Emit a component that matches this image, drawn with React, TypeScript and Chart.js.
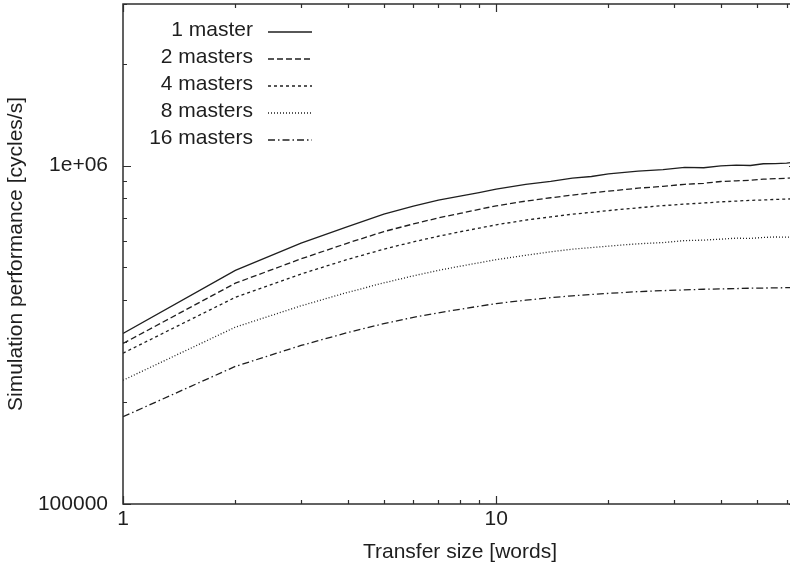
import React, { useEffect, useRef } from "react";
import { Chart, registerables } from "chart.js";

Chart.register(...registerables);

// Transfer sizes (words) sampled along the x axis
const transferSizes = [1, 2, 3, 4, 5, 6, 7, 8, 9, 10, 12, 14, 16, 18, 20, 24, 28, 32, 36, 40, 44, 48, 52, 56, 60, 64];

// Simulation performance [cycles/s]
const master1 = [319000, 490000, 590000, 660000, 718000, 758000, 790000, 812000, 832000, 852000, 880000, 898000, 918000, 928000, 944000, 962000, 972000, 988000, 985000, 998000, 1003000, 1000000, 1012000, 1013000, 1016000, 1025000];
const masters2 = [298000, 449000, 530000, 590000, 638000, 672000, 700000, 722000, 742000, 760000, 785000, 803000, 818000, 830000, 840000, 857000, 868000, 880000, 886000, 897000, 901000, 904000, 911000, 914000, 917000, 920000];
const masters4 = [279000, 408000, 478000, 528000, 566000, 595000, 618000, 637000, 653000, 668000, 690000, 705000, 718000, 727000, 736000, 750000, 761000, 769000, 775000, 781000, 785000, 789000, 791000, 794000, 796000, 798000];
const masters8 = [232000, 333000, 385000, 422000, 450000, 472000, 490000, 504000, 516000, 527000, 543000, 556000, 566000, 572000, 578000, 587000, 592000, 600000, 602000, 606000, 610000, 609000, 613000, 615000, 614000, 617000];
const masters16 = [181000, 255000, 294000, 321000, 341000, 356000, 367000, 376000, 384000, 391000, 400000, 407000, 412000, 416000, 419000, 424000, 427000, 429000, 431000, 432000, 433000, 434000, 434500, 435000, 435500, 436000];

const seriesLabels = ["1 master", "2 masters", "4 masters", "8 masters", "16 masters"];
const seriesValues = [master1, masters2, masters4, masters8, masters16];
const seriesDashes = [[], [6, 3], [3, 3], [1, 2], [7, 3, 1.5, 3]];

// Axis ticks
const xMajorTicks = [1, 10];
const xMinorTicks = [2, 3, 4, 5, 6, 7, 8, 9, 20, 30, 40, 50, 60];
const xTickLabels: Record<string, string> = { "1": "1", "10": "10" };
const yMajorTicks = [100000, 1000000];
const yMinorTicks = [200000, 300000, 400000, 500000, 600000, 700000, 800000, 900000, 2000000, 3000000];
const yTickLabels: Record<string, string> = { "100000": "100000", "1000000": "1e+06" };

const FONT = '"Liberation Sans", Arial, Helvetica, sans-serif';
const TEXT = "#1e1e1e";
const INK = "#1f1f1f";

const framePlugin = {
  id: "frameAndLegend",
  afterDatasetsDraw(chart: any) {
    const { ctx, chartArea, scales } = chart;
    const { left, right, top, bottom } = chartArea;
    const xs = scales.x;
    const ys = scales.y;
    ctx.save();
    ctx.strokeStyle = "#2e2e2e";
    ctx.lineWidth = 1.5;
    ctx.setLineDash([]);
    ctx.strokeRect(left, top, right - left, bottom - top);

    ctx.lineWidth = 1.2;
    ctx.beginPath();
    const xTick = (v: number, len: number) => {
      const p = Math.round(xs.getPixelForValue(v)) + 0.5;
      ctx.moveTo(p, bottom);
      ctx.lineTo(p, bottom - len);
      ctx.moveTo(p, top);
      ctx.lineTo(p, top + len);
    };
    const yTick = (v: number, len: number) => {
      const p = Math.round(ys.getPixelForValue(v)) + 0.5;
      ctx.moveTo(left, p);
      ctx.lineTo(left + len, p);
      ctx.moveTo(right, p);
      ctx.lineTo(right - len, p);
    };
    xMajorTicks.forEach((v) => xTick(v, 8));
    xMinorTicks.forEach((v) => xTick(v, 4));
    yMajorTicks.forEach((v) => yTick(v, 8));
    yMinorTicks.forEach((v) => yTick(v, 4));
    ctx.stroke();

    // Legend (inside plot, top-left; text right-aligned, sample line to the right)
    ctx.font = `21px ${FONT}`;
    ctx.textAlign = "right";
    ctx.textBaseline = "middle";
    ctx.fillStyle = TEXT;
    chart.data.datasets.forEach((ds: any, i: number) => {
      const yy = 30 + 27 * i;
      ctx.fillText(ds.label, 253, yy);
      ctx.beginPath();
      ctx.strokeStyle = INK;
      ctx.lineWidth = 1.3;
      ctx.setLineDash(ds.borderDash || []);
      ctx.moveTo(268, yy + 2);
      ctx.lineTo(312, yy + 2);
      ctx.stroke();
    });
    ctx.restore();
  },
};

export default function App() {
  const canvasRef = useRef<HTMLCanvasElement | null>(null);

  useEffect(() => {
    const canvas = canvasRef.current;
    if (!canvas) return;
    const datasets = seriesLabels.map((label, i) => ({
      label,
      data: transferSizes.map((x, j) => ({ x, y: seriesValues[i][j] })),
      borderColor: INK,
      backgroundColor: INK,
      borderWidth: 1.3,
      borderDash: seriesDashes[i],
      pointRadius: 0,
      tension: 0,
      fill: false,
    }));

    const chart = new Chart(canvas, {
      type: "line",
      data: { datasets },
      options: {
        animation: false,
        responsive: false,
        devicePixelRatio: 1,
        layout: { autoPadding: false, padding: { left: 0, top: 4, right: 3, bottom: 0 } },
        plugins: {
          legend: { display: false },
          tooltip: { enabled: false },
        },
        scales: {
          x: {
            type: "logarithmic",
            position: "bottom",
            min: 1,
            max: 64,
            grid: { display: false, drawTicks: false },
            border: { display: false },
            afterBuildTicks: (scale: any) => {
              scale.ticks = [...xMajorTicks, ...xMinorTicks].sort((a, b) => a - b).map((v) => ({ value: v }));
            },
            afterFit: (scale: any) => {
              scale.height = 64;
              scale.paddingLeft = 0;
              scale.paddingRight = 0;
              scale.paddingTop = 0;
              scale.paddingBottom = 0;
            },
            ticks: {
              autoSkip: false,
              maxRotation: 0,
              padding: 3,
              color: TEXT,
              font: { family: FONT, size: 21 },
              callback: (v: any) => xTickLabels[String(v)] ?? "",
            },
            title: {
              display: true,
              text: "Transfer size [words]",
              color: TEXT,
              font: { family: FONT, size: 21 },
              padding: { top: 0, bottom: 3 },
            },
          },
          y: {
            type: "logarithmic",
            position: "left",
            min: 100000,
            max: 3000000,
            grid: { display: false, drawTicks: false },
            border: { display: false },
            afterBuildTicks: (scale: any) => {
              scale.ticks = [...yMajorTicks, ...yMinorTicks].sort((a, b) => a - b).map((v) => ({ value: v }));
            },
            afterFit: (scale: any) => {
              scale.width = 123;
              scale.paddingLeft = 0;
              scale.paddingRight = 0;
              scale.paddingTop = 0;
              scale.paddingBottom = 0;
            },
            ticks: {
              autoSkip: false,
              padding: 15,
              color: TEXT,
              font: { family: FONT, size: 21 },
              callback: (v: any) => yTickLabels[String(v)] ?? "",
            },
            title: {
              display: true,
              text: "Simulation performance [cycles/s]",
              color: TEXT,
              font: { family: FONT, size: 21 },
              padding: { top: 4, bottom: 0 },
            },
          },
        },
      },
      plugins: [framePlugin],
    } as any);

    return () => chart.destroy();
  }, []);

  return (
    <div
      style={{
        position: "fixed",
        left: 0,
        top: 0,
        width: 790,
        height: 568,
        overflow: "hidden",
        background: "#ffffff",
      }}
    >
      <canvas ref={canvasRef} width={800} height={568} style={{ display: "block", width: 800, height: 568 }} />
    </div>
  );
}
